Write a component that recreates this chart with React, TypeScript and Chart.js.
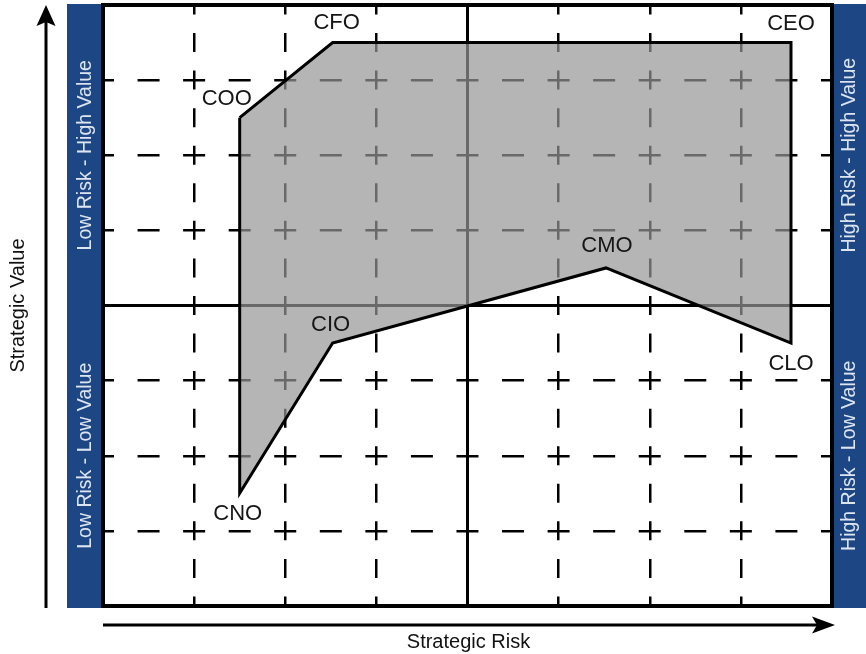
import React, { useEffect, useRef } from 'react';
import { Chart, registerables } from 'chart.js';

Chart.register(...registerables);

// ---- data ----
const roles = ['COO', 'CFO', 'CEO', 'CLO', 'CMO', 'CIO', 'CNO'];
const strategicRisk = [1.5, 2.52, 7.55, 7.55, 5.52, 2.52, 1.5];
const strategicValue = [6.5, 7.5, 7.5, 3.5, 4.5, 3.5, 1.5];
const axisMin = 0;
const axisMax = 8;
const midValue = 4;
const xTitle = 'Strategic Risk';
const yTitle = 'Strategic Value';
const leftLabels = ['Low Risk - High Value', 'Low Risk - Low Value'];
const rightLabels = ['High Risk - High Value', 'High Risk - Low Value'];

// ---- style ----
const FONT = '"Liberation Sans", Arial, Helvetica, sans-serif';
const BLUE = '#1c4784';
const BAR_TEXT = '#dde5f0';
const labelOffsets: [number, number][] = [
  [-13, -20], [4, -21], [0, -20], [0, 20], [1, -23], [-2, -19], [-2, 20],
];

const decorPlugin = {
  id: 'decor',
  beforeDraw(chart: any) {
    const { ctx, chartArea: a, scales } = chart;
    const W = chart.width;
    ctx.save();
    ctx.fillStyle = '#fff';
    ctx.fillRect(0, 0, W, chart.height);
    // blue side bars
    ctx.fillStyle = BLUE;
    ctx.fillRect(67, a.top - 1, a.left - 67, a.bottom - a.top + 3);
    ctx.fillRect(a.right, a.top - 1, W - a.right, a.bottom - a.top + 3);
    // bar texts
    const yTop = scales.y.getPixelForValue((midValue + axisMax) / 2);
    const yBot = scales.y.getPixelForValue((midValue + axisMin) / 2);
    ctx.fillStyle = BAR_TEXT;
    ctx.font = `19.5px ${FONT}`;
    ctx.textAlign = 'center';
    ctx.textBaseline = 'middle';
    const rot = (text: string, x: number, y: number) => {
      ctx.save();
      ctx.translate(x, y);
      ctx.rotate(-Math.PI / 2);
      ctx.fillText(text, 0, 0);
      ctx.restore();
    };
    const lx = (67 + a.left) / 2 + 1;
    const rx = (a.right + W) / 2 + 1;
    rot(leftLabels[0], lx, yTop);
    rot(leftLabels[1], lx, yBot);
    rot(rightLabels[0], rx, yTop);
    rot(rightLabels[1], rx, yBot);

    // arrows
    ctx.strokeStyle = '#000';
    ctx.fillStyle = '#000';
    ctx.lineWidth = 3;
    // vertical
    const vx = 46;
    ctx.beginPath();
    ctx.moveTo(vx, a.bottom + 2);
    ctx.lineTo(vx, 20);
    ctx.stroke();
    ctx.beginPath();
    ctx.moveTo(vx, 5);
    ctx.lineTo(vx - 9.5, 26);
    ctx.lineTo(vx, 22);
    ctx.lineTo(vx + 9.5, 26);
    ctx.closePath();
    ctx.fill();
    // horizontal
    const hy = 625;
    ctx.beginPath();
    ctx.moveTo(a.left, hy);
    ctx.lineTo(a.right - 10, hy);
    ctx.stroke();
    ctx.beginPath();
    ctx.moveTo(a.right + 3, hy);
    ctx.lineTo(a.right - 20, hy - 8.5);
    ctx.lineTo(a.right - 15, hy);
    ctx.lineTo(a.right - 20, hy + 8.5);
    ctx.closePath();
    ctx.fill();

    // axis titles
    ctx.fillStyle = '#111';
    ctx.font = `20px ${FONT}`;
    ctx.textAlign = 'center';
    ctx.textBaseline = 'middle';
    ctx.fillText(xTitle, (a.left + a.right) / 2 + 1, 642);
    rot(yTitle, 18, (a.top + a.bottom) / 2);
    ctx.restore();
  },
  afterDatasetsDraw(chart: any) {
    const { ctx, chartArea: a, scales } = chart;
    ctx.save();
    ctx.strokeStyle = '#000';
    ctx.lineWidth = 4;
    ctx.strokeRect(a.left, a.top, a.right - a.left, a.bottom - a.top);
    ctx.fillStyle = '#151515';
    ctx.font = `22px ${FONT}`;
    ctx.textAlign = 'center';
    ctx.textBaseline = 'middle';
    roles.forEach((r, i) => {
      const px = scales.x.getPixelForValue(strategicRisk[i]);
      const py = scales.y.getPixelForValue(strategicValue[i]);
      const [dx, dy] = labelOffsets[i];
      ctx.fillText(r, px + dx, py + dy + 1);
    });
    ctx.restore();
  },
};

export default function App() {
  const ref = useRef<HTMLCanvasElement>(null);
  useEffect(() => {
    if (!ref.current) return;
    const pts = roles.map((_, i) => ({ x: strategicRisk[i], y: strategicValue[i] }));
    pts.push({ ...pts[0] });
    const chart = new Chart(ref.current, {
      type: 'scatter',
      data: {
        datasets: [
          {
            type: 'line',
            data: pts,
            borderColor: '#000',
            borderWidth: 3,
            backgroundColor: 'rgba(150,150,150,0.7)',
            fill: 'shape',
            tension: 0,
            pointRadius: 0,
            borderJoinStyle: 'miter',
            order: 0,
          } as any,
          {
            type: 'line',
            data: [{ x: midValue, y: axisMin }, { x: midValue, y: axisMax }],
            borderColor: '#000',
            borderWidth: 3,
            pointRadius: 0,
            fill: false,
            order: 1,
          } as any,
          {
            type: 'line',
            data: [{ x: axisMin, y: midValue }, { x: axisMax, y: midValue }],
            borderColor: '#000',
            borderWidth: 3,
            pointRadius: 0,
            fill: false,
            order: 1,
          } as any,
        ],
      },
      options: {
        responsive: false,
        animation: false,
        devicePixelRatio: 1,
        layout: { padding: { left: 103, right: 34, top: 5, bottom: 48 } },
        plugins: { legend: { display: false }, tooltip: { enabled: false } },
        scales: {
          x: {
            type: 'linear',
            min: axisMin,
            max: axisMax,
            ticks: { display: false, stepSize: 1 },
            grid: { color: '#000', lineWidth: 2.5, drawTicks: false },
            border: { display: false, dash: [19, 18.56], dashOffset: 9.5 },
          },
          y: {
            type: 'linear',
            min: axisMin,
            max: axisMax,
            ticks: { display: false, stepSize: 1 },
            grid: { color: '#000', lineWidth: 2.5, drawTicks: false },
            border: { display: false, dash: [22, 23.56], dashOffset: 11 },
          },
        },
      } as any,
      plugins: [decorPlugin],
    });
    return () => chart.destroy();
  }, []);
  return (
    <div style={{ position: 'fixed', left: 0, top: 0, width: 866, height: 654, background: '#fff' }}>
      <canvas ref={ref} width={866} height={654} style={{ display: 'block' }} />
    </div>
  );
}
